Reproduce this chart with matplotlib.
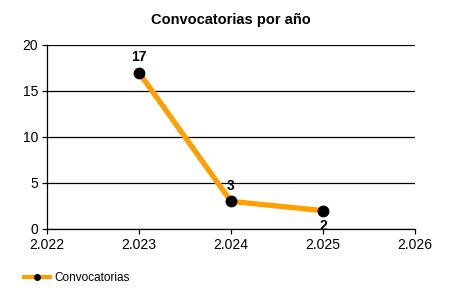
import matplotlib
matplotlib.use('agg')
from matplotlib import pyplot as plt
from matplotlib.ticker import FuncFormatter

plt.rcParams['font.family'] = ['Liberation Sans', 'DejaVu Sans']

years = [2023, 2024, 2025]
counts = [17, 3, 2]
series_name = 'Convocatorias'

fig = plt.figure(figsize=(4.5, 3), dpi=100)
ax = fig.add_axes([0.1044, 0.2367, 0.8178, 0.6133])

ax.plot(years, counts, color='#FFA000', lw=3.8, marker='o', ms=7.5,
        mfc='black', mec='black', label=series_name, zorder=3)

# data labels: above for the first two, below for the last one
for x, y in zip(years, counts):
    if y == min(counts):
        ax.annotate(str(y), (x, y), xytext=(0, -11), textcoords='offset points',
                    ha='center', va='center', fontsize=10, fontweight='bold', zorder=4)
    else:
        ax.annotate(str(y), (x, y), xytext=(0, 11), textcoords='offset points',
                    ha='center', va='center', fontsize=10, fontweight='bold', zorder=4)

ax.set_xlim(2022, 2026)
ax.set_ylim(0, 20)
ax.set_xticks([2022, 2023, 2024, 2025, 2026])
ax.set_yticks([0, 5, 10, 15, 20])
ax.xaxis.set_major_formatter(FuncFormatter(lambda v, p: '{:,.0f}'.format(v).replace(',', '.')))
ax.grid(axis='y', color='black', lw=0.9)
ax.set_axisbelow(True)
for s in ['top', 'right']:
    ax.spines[s].set_visible(False)
ax.spines['left'].set_linewidth(0.9)
ax.spines['bottom'].set_linewidth(0.9)
ax.tick_params(length=3.5, width=0.9, labelsize=10, pad=3)

ax.set_title('Convocatorias por año', fontsize=10.5, fontweight='bold', pad=15)

leg = fig.legend(loc='center left', bbox_to_anchor=(0.03, 0.073), frameon=False,
                 fontsize=8.5, handlelength=2.2, handletextpad=0.4)
for h in leg.legend_handles:
    h.set_markersize(4)
    h.set_linewidth(3)

fig.savefig('out.png', dpi=100)
